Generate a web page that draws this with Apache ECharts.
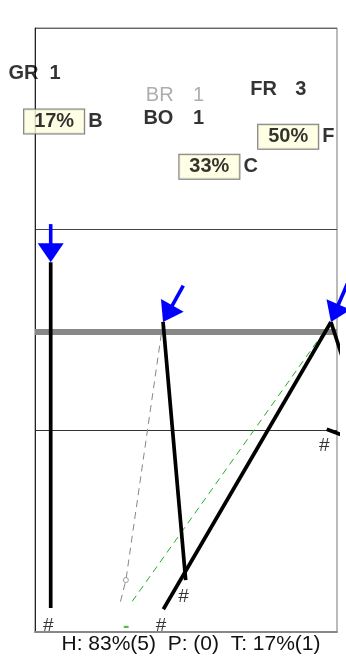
<!DOCTYPE html>
<html><head><meta charset="utf-8">
<script src="https://cdn.jsdelivr.net/npm/echarts@6/dist/echarts.min.js"></script>
<style>html,body{margin:0;padding:0;background:#fff}#c{width:346px;height:656px}</style>
</head><body><div id="c"></div>
<script>
const FONT = '"Liberation Sans", Arial, Helvetica, sans-serif';

// ---------- data ----------
const xRange = [0, 10];
const yRange = [0, 3];
const yInterval = 1;

const groupNames  = ['GR', 'BR', 'BO', 'FR'];
const groupCounts = [1, 1, 1, 3];
const groupTone   = ['strong', 'muted', 'strong', 'strong'];

const shareValues  = [17, 33, 50];
const shareLetters = ['B', 'C', 'F'];

const summaryKeys   = ['H', 'P', 'T'];
const summaryPct    = [83, null, 17];
const summaryCounts = [5, 0, 1];

const trackA = [[0.52, 1.836], [0.52, 0.119]];
const trackB = [[4.24, 1.54], [4.99, 0.258]];
const trackC = [[9.80, 1.54], [4.25, 0.113]];
const trackD = [[9.80, 1.54], [10.5, 1.214]];
const trackE = [[9.66, 1.007], [10.5, 0.959]];

const projGray   = [[4.24, 1.54], [3.01, 0.258], [2.81, 0.139]];
const projGreen  = [[9.80, 1.54], [3.18, 0.144]];
const grayMarker = [[3.01, 0.258]];

const arrowFrom = [[0.52, 2.026], [4.91, 1.72], [10.4, 1.75]];
const arrowTo   = [[0.52, 1.836], [4.24, 1.54], [9.80, 1.54]];

const bandLevel = 1.49;

const hashPoints = [[0.44, 0.031], [4.17, 0.031], [4.92, 0.177], [9.58, 0.926]];
const dashPoints = [[3.02, 0.026]];

// ---------- label anchors (layout, data coordinates) ----------
const nameAnchors  = [[-0.88, 2.772], [3.67, 2.667], [3.59, 2.55], [7.13, 2.695]];
const countAnchors = [[0.48, 2.772], [5.23, 2.667], [5.23, 2.55], [8.62, 2.695]];
const shareAnchors = [[-0.36, 2.536], [4.78, 2.311], [7.39, 2.46]];

// ---------- build ----------
const toneColor = { strong: '#000', muted: '#999' };
const toneWeight = { strong: 'bold', muted: 'normal' };

function textSeries(points, texts, opts) {
  return {
    type: 'scatter', symbolSize: 0, silent: true, z: 10, clip: false,
    data: points.map((p, i) => ({
      value: p,
      label: Object.assign({ formatter: String(texts[i]) }, opts.itemLabel ? opts.itemLabel(i) : {})
    })),
    label: Object.assign({
      show: true, position: opts.position || 'right', distance: 0,
      fontFamily: FONT, fontSize: opts.fontSize || 20, color: opts.color || '#000',
      fontWeight: opts.fontWeight || 'bold', textBorderWidth: 0
    }, opts.extra || {})
  };
}

function trackSeries(data) {
  return { type: 'line', data, symbol: 'none', clip: false, silent: true, z: 4,
           lineStyle: { color: '#000', width: 3.7, cap: 'butt' } };
}

const summaryText = summaryKeys.map((k, i) =>
  k + ': ' + (summaryPct[i] == null ? '' : summaryPct[i] + '%') + '(' + summaryCounts[i] + ')'
).join('  ');

const chart = echarts.init(document.getElementById('c'), null, { renderer: 'canvas' });
chart.setOption({
  animation: false,
  backgroundColor: '#fff',
  grid: { left: 35, right: 9, top: 28, bottom: 24, show: true, borderColor: '#777', borderWidth: 1, backgroundColor: 'transparent' },
  xAxis: {
    type: 'value', min: xRange[0], max: xRange[1],
    axisLine: { show: true, onZero: false, lineStyle: { color: '#888', width: 2 } },
    axisTick: { show: false }, axisLabel: { show: false }, splitLine: { show: false }
  },
  yAxis: {
    type: 'value', min: yRange[0], max: yRange[1], interval: yInterval,
    axisLine: { show: true, lineStyle: { color: '#222', width: 1 } },
    axisTick: { show: false }, axisLabel: { show: false },
    splitLine: { show: true, lineStyle: { color: ['#888', '#333', '#444', '#666'], width: 1 } }
  },
  graphic: [{
    type: 'text', x: 191, y: 644, silent: true,
    style: { text: summaryText, fontFamily: FONT, fontSize: 21, fill: '#111',
             textAlign: 'center', textVerticalAlign: 'middle' }
  }],
  series: [
    { type: 'line', data: [[xRange[0], bandLevel], [xRange[1], bandLevel]], symbol: 'none', silent: true, z: 1,
      lineStyle: { color: '#888', width: 6 } },
    { type: 'line', data: projGray, symbol: 'none', clip: false, silent: true, z: 2,
      lineStyle: { color: '#888', width: 1, type: [7, 5] } },
    { type: 'line', data: projGreen, symbol: 'none', clip: false, silent: true, z: 2,
      lineStyle: { color: '#22b022', width: 1, type: [7, 5] } },
    { type: 'scatter', data: grayMarker, symbol: 'circle', symbolSize: 5, silent: true, z: 3,
      itemStyle: { color: '#fff', borderColor: '#888', borderWidth: 1 } },
    trackSeries(trackA), trackSeries(trackB), trackSeries(trackC), trackSeries(trackD), trackSeries(trackE),
    {
      type: 'custom', silent: true, z: 6, clip: false,
      data: arrowFrom.map((f, i) => [f[0], f[1], arrowTo[i][0], arrowTo[i][1]]),
      renderItem(params, api) {
        const s = api.coord([api.value(0), api.value(1)]);
        const t = api.coord([api.value(2), api.value(3)]);
        const dx = t[0] - s[0], dy = t[1] - s[1], L = Math.hypot(dx, dy);
        const ux = dx / L, uy = dy / L;
        const headLen = 19, headHalf = 13;
        const bx = t[0] - ux * headLen, by = t[1] - uy * headLen;
        return { type: 'group', children: [
          { type: 'line', shape: { x1: s[0], y1: s[1], x2: bx + ux * 2, y2: by + uy * 2 },
            style: { stroke: '#0000ff', lineWidth: 3.6 } },
          { type: 'polygon', shape: { points: [[t[0], t[1]], [bx - uy * headHalf, by + ux * headHalf], [bx + uy * headHalf, by - ux * headHalf]] },
            style: { fill: '#0000ff' } }
        ] };
      }
    },
    textSeries(nameAnchors, groupNames, {
      itemLabel: i => ({ color: toneColor[groupTone[i]], fontWeight: toneWeight[groupTone[i]] })
    }),
    textSeries(countAnchors, groupCounts, {
      itemLabel: i => ({ color: toneColor[groupTone[i]], fontWeight: toneWeight[groupTone[i]] })
    }),
    {
      type: 'scatter', symbolSize: 0, silent: true, z: 10, clip: false,
      data: shareAnchors.map((p, i) => ({ value: p, name: shareLetters[i] })),
      label: {
        show: true, position: 'right', distance: 0, textBorderWidth: 0,
        formatter: p => '{b|' + shareValues[p.dataIndex] + '%}{l|' + shareLetters[p.dataIndex] + '}',
        rich: {
          b: { fontFamily: FONT, fontSize: 20, fontWeight: 'bold', color: '#000', lineHeight: 21,
               backgroundColor: '#ffffe0', borderColor: '#555', borderWidth: 1, padding: [2, 10, 2, 10] },
          l: { fontFamily: FONT, fontSize: 20, fontWeight: 'bold', color: '#000', padding: [0, 0, 0, 4] }
        }
      }
    },
    textSeries(hashPoints, hashPoints.map(() => '#'), { position: 'inside', fontSize: 19, fontWeight: 'normal' }),
    textSeries(dashPoints, dashPoints.map(() => '-'), { position: 'inside', fontSize: 19, fontWeight: 'bold', color: '#22b022' })
  ]
});
</script></body></html>
